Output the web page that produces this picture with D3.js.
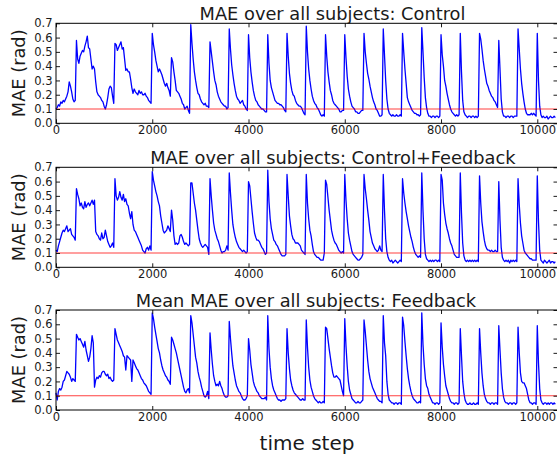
<!DOCTYPE html>
<html>
<head>
<meta charset="utf-8">
<script src="https://cdn.jsdelivr.net/npm/d3@7"></script>
<style>
  body { margin: 0; background: #fff; }
  text { font-family: "DejaVu Sans", sans-serif; }
</style>
</head>
<body>
<div id="chart"></div>
<script>
// one sample every 25 time steps
const stepSize = 25;
const xTickValues = [0, 2000, 4000, 6000, 8000, 10000];
const yTickValues = [0, 0.1, 0.2, 0.3, 0.4, 0.5, 0.6, 0.7];
const thresholdValue = 0.1;
const panelTitles = [
  "MAE over all subjects: Control",
  "MAE over all subjects: Control+Feedback",
  "Mean MAE over all subjects: Feedback",
];
const xLabel = "time step";
const yLabel = "MAE (rad)";

const control = [
  .10,.11,.13,.12,.15,.14,.16,.15,.17,.19, .22,.29,.26,.22,.17,.15,.16,.58,.45,.42,
  .47,.49,.51,.50,.54,.57,.61,.53,.52,.45, .38,.40,.38,.29,.22,.20,.19,.18,.16,.15,
  .12,.10,.13,.18,.24,.26,.25,.19,.14,.56, .55,.51,.53,.55,.57,.52,.53,.45,.37,.38,
  .36,.36,.31,.25,.21,.24,.22,.21,.20,.23, .21,.22,.20,.20,.21,.19,.18,.16,.15,.14,
  // trials every 400 steps from 2000
  .63,.55,.50,.44,.40,.36,.38,.36,.34,.31,.28,.26,.28,.25,.23,.19,
  .46,.43,.36,.30,.23,.22,.21,.19,.17,.14,.13,.10,.11,.12,.09,.07,
  .69,.56,.45,.36,.30,.25,.21,.20,.17,.15,.14,.13,.14,.12,.12,.11,
  .57,.50,.43,.36,.30,.27,.22,.19,.17,.15,.14,.13,.12,.12,.10,.11,
  .66,.52,.41,.34,.28,.23,.19,.17,.16,.14,.15,.16,.13,.12,.10,.09,
  .62,.46,.36,.29,.23,.19,.16,.15,.13,.12,.11,.10,.10,.09,.08,.08,
  .62,.42,.30,.25,.22,.19,.16,.15,.14,.14,.13,.13,.12,.11,.09,.08,
  .63,.47,.35,.28,.23,.20,.19,.16,.14,.13,.12,.12,.11,.09,.07,.06,
  .68,.50,.38,.30,.24,.19,.16,.14,.13,.11,.10,.08,.06,.05,.06,.05,
  .62,.47,.36,.29,.23,.20,.16,.14,.13,.12,.11,.10,.08,.08,.09,.09,
  .62,.46,.33,.24,.19,.15,.12,.11,.10,.08,.08,.07,.07,.08,.09,.09,
  .63,.50,.42,.35,.31,.26,.22,.18,.15,.13,.10,.09,.07,.05,.05,.06,
  .66,.48,.30,.17,.10,.07,.06,.05,.06,.05,.05,.06,.05,.05,.06,.05,
  .63,.50,.38,.28,.18,.15,.13,.11,.09,.08,.07,.07,.06,.06,.05,.06,
  .67,.50,.32,.18,.11,.07,.05,.05,.04,.05,.05,.04,.05,.05,.04,.05,
  .62,.48,.40,.30,.26,.21,.17,.13,.10,.08,.07,.06,.05,.06,.05,.06,
  .63,.36,.16,.08,.06,.05,.04,.05,.05,.04,.05,.05,.04,.05,.04,.05,
  .63,.59,.52,.44,.38,.33,.28,.26,.23,.21,.19,.18,.16,.15,.13,.11,
  .58,.38,.17,.08,.05,.05,.04,.05,.05,.04,.05,.05,.04,.05,.05,.05,
  .66,.52,.38,.28,.21,.15,.10,.07,.06,.06,.06,.07,.06,.07,.06,.05,
  .63,.30,.12,.06,.04,.05,.04,.04,.05,.03,.04,.05,.04,.04,.05,.04,
];

const controlFeedback = [
  .12,.11,.15,.18,.21,.24,.26,.25,.27,.29, .25,.26,.27,.23,.22,.21,.19,.55,.51,.48,
  .43,.45,.42,.41,.46,.42,.44,.45,.43,.45, .47,.44,.47,.25,.23,.22,.20,.19,.24,.20,
  .21,.26,.22,.18,.16,.14,.15,.17,.14,.62, .50,.47,.49,.53,.49,.47,.51,.46,.48,.44,
  .43,.38,.34,.39,.30,.26,.25,.23,.21,.19, .17,.15,.12,.11,.10,.13,.14,.12,.15,.12,
  .67,.61,.57,.53,.50,.46,.43,.36,.31,.26,.24,.25,.26,.29,.27,.25,
  .40,.33,.22,.16,.17,.16,.17,.22,.23,.21,.18,.16,.17,.16,.15,.16,
  .59,.59,.52,.45,.40,.33,.26,.20,.17,.15,.14,.15,.16,.15,.14,.09,
  .62,.50,.40,.31,.26,.23,.20,.18,.15,.12,.10,.11,.11,.12,.15,.12,
  .66,.52,.40,.30,.25,.21,.18,.16,.14,.13,.12,.11,.12,.11,.10,.11,
  .60,.57,.48,.39,.31,.24,.21,.19,.19,.18,.16,.14,.13,.11,.09,.10,
  .68,.46,.34,.27,.23,.19,.18,.16,.15,.13,.11,.09,.08,.08,.08,.09,
  .65,.50,.36,.29,.23,.20,.19,.17,.17,.17,.16,.15,.12,.11,.10,.09,
  .65,.45,.34,.26,.22,.16,.11,.09,.08,.07,.07,.06,.05,.05,.05,.10,
  .61,.58,.49,.40,.33,.26,.22,.19,.17,.16,.14,.12,.11,.10,.11,.10,
  .65,.47,.34,.24,.19,.15,.11,.09,.08,.07,.06,.05,.05,.06,.07,.09,
  .65,.55,.48,.40,.33,.25,.21,.17,.15,.13,.12,.11,.12,.15,.12,.11,
  .65,.40,.20,.11,.07,.05,.04,.05,.03,.04,.05,.04,.03,.04,.05,.04,
  .62,.52,.45,.39,.34,.29,.25,.21,.18,.14,.11,.09,.08,.07,.08,.07,
  .66,.40,.20,.09,.06,.05,.04,.05,.04,.05,.04,.05,.05,.04,.05,.04,
  .65,.61,.45,.37,.31,.27,.24,.20,.17,.15,.12,.09,.08,.07,.07,.07,
  .66,.38,.17,.08,.05,.04,.05,.04,.05,.04,.05,.04,.05,.04,.05,.04,
  .64,.45,.32,.25,.19,.15,.13,.12,.12,.11,.12,.11,.11,.12,.11,.11,
  .60,.33,.14,.07,.05,.04,.05,.04,.05,.03,.05,.04,.05,.04,.05,.04,
  .62,.44,.31,.22,.17,.12,.10,.09,.08,.07,.06,.06,.05,.05,.05,.05,
  .64,.32,.12,.05,.04,.03,.05,.04,.03,.04,.05,.03,.04,.04,.03,.04,
];

const feedback = [
  .12,.07,.13,.15,.14,.16,.20,.21,.24,.27, .26,.25,.23,.20,.22,.21,.20,.53,.51,.49,
  .50,.48,.46,.44,.48,.42,.38,.34,.37,.43, .52,.47,.16,.21,.23,.22,.24,.23,.26,.27,
  .27,.25,.24,.25,.22,.23,.21,.20,.21,.57, .53,.49,.47,.45,.43,.41,.38,.37,.28,.38,
  .37,.36,.35,.20,.35,.33,.31,.29,.28,.26, .24,.22,.21,.19,.18,.17,.15,.13,.12,.11,
  .68,.64,.58,.53,.48,.43,.40,.35,.31,.28,.26,.24,.23,.21,.20,.18,
  .51,.49,.46,.43,.40,.36,.32,.28,.24,.20,.16,.13,.12,.14,.15,.12,
  .66,.61,.53,.45,.37,.33,.27,.23,.20,.16,.13,.10,.09,.10,.13,.08,
  .54,.42,.32,.24,.20,.17,.18,.17,.20,.17,.15,.12,.10,.09,.09,.10,
  .62,.50,.40,.31,.26,.21,.17,.15,.13,.12,.10,.08,.07,.07,.08,.10,
  .50,.42,.32,.26,.20,.17,.15,.13,.12,.10,.09,.08,.08,.08,.09,.07,
  .66,.43,.30,.22,.17,.14,.12,.10,.08,.07,.07,.06,.07,.07,.07,.08,
  .57,.40,.29,.21,.17,.14,.12,.11,.10,.09,.08,.07,.07,.08,.07,.07,
  .63,.44,.30,.21,.16,.13,.10,.08,.07,.06,.05,.06,.05,.05,.06,.05,
  .58,.57,.50,.43,.37,.31,.26,.23,.23,.24,.23,.22,.21,.17,.13,.10,
  .64,.45,.31,.20,.14,.11,.08,.07,.06,.05,.05,.06,.05,.05,.06,.07,
  .63,.55,.45,.35,.27,.22,.19,.16,.14,.12,.10,.08,.07,.06,.06,.05,
  .66,.47,.38,.20,.11,.07,.06,.05,.05,.04,.05,.05,.04,.05,.05,.04,
  .65,.59,.48,.38,.29,.22,.17,.13,.10,.08,.07,.06,.05,.05,.06,.05,
  .68,.46,.32,.22,.17,.15,.11,.09,.07,.05,.05,.04,.05,.05,.04,.05,
  .61,.44,.32,.24,.17,.14,.11,.08,.06,.05,.05,.04,.05,.05,.04,.05,
  .57,.38,.20,.12,.07,.05,.04,.04,.05,.04,.04,.05,.04,.04,.05,.04,
  .57,.40,.26,.17,.11,.08,.06,.05,.05,.04,.05,.05,.04,.05,.05,.04,
  .59,.42,.26,.15,.09,.06,.05,.05,.04,.05,.05,.04,.05,.05,.04,.05,
  .58,.40,.26,.20,.19,.19,.17,.15,.11,.07,.05,.05,.04,.05,.05,.04,
  .59,.33,.15,.07,.05,.04,.05,.05,.04,.05,.04,.05,.05,.04,.05,.04,
];

// layout (pixels)
const width = 557, height = 458;
const plotLeft = 56, plotRight = 557.5;
const panelTops = [23.3, 167.3, 310];
const panelHeight = 100;
const titleCenters = [332.5, 332.8, 306];
const tickLen = 4;

const svg = d3
  .select("#chart")
  .append("svg")
  .attr("width", width)
  .attr("height", height);

const xScale = d3.scaleLinear().domain([0, 10420]).range([plotLeft, plotRight]);

[control, controlFeedback, feedback].forEach(function (series, k) {
  var top = panelTops[k],
    bottom = top + panelHeight;
  var yScale = d3.scaleLinear().domain([0, 0.7]).range([bottom, top]);
  var g = svg.append("g").attr("class", "panel");

  // the MAE curve
  g.append("path")
    .datum(series)
    .attr("fill", "none")
    .attr("stroke", "#0000ff")
    .attr("stroke-width", 1.3)
    .attr("stroke-linejoin", "round")
    .attr(
      "d",
      d3
        .line()
        .x((d, i) => xScale(i * stepSize))
        .y((d) => yScale(d))
    );

  // threshold line
  g.append("line")
    .attr("x1", xScale(0))
    .attr("x2", plotRight)
    .attr("y1", yScale(thresholdValue))
    .attr("y2", yScale(thresholdValue))
    .attr("stroke", "#ff0000")
    .attr("stroke-opacity", 0.75)
    .attr("stroke-width", 1.1);

  // axes, ticks pointing inwards on all four sides
  var axes = [
    g.append("g").attr("transform", "translate(0," + bottom + ")")
      .call(d3.axisBottom(xScale).tickValues(xTickValues).tickSize(-tickLen).tickPadding(3).tickFormat(d3.format("d"))),
    g.append("g").attr("transform", "translate(0," + top + ")")
      .call(d3.axisTop(xScale).tickValues(xTickValues).tickSize(-tickLen).tickFormat("")),
    g.append("g").attr("transform", "translate(" + plotLeft + ",0)")
      .call(d3.axisLeft(yScale).tickValues(yTickValues).tickSize(-tickLen).tickPadding(3.5).tickFormat(d3.format(".1f"))),
    g.append("g").attr("transform", "translate(" + plotRight + ",0)")
      .call(d3.axisRight(yScale).tickValues(yTickValues).tickSize(-tickLen).tickFormat("")),
  ];
  axes.forEach(function (a) {
    a.select(".domain").remove();
    a.attr("font-size", 11.5).attr("font-family", "DejaVu Sans").attr("color", "#1a1a1a");
  });

  // frame
  g.append("rect")
    .attr("x", plotLeft)
    .attr("y", top)
    .attr("width", plotRight - plotLeft)
    .attr("height", panelHeight)
    .attr("fill", "none")
    .attr("stroke", "#000")
    .attr("stroke-width", 1);

  g.append("text")
    .attr("x", titleCenters[k])
    .attr("y", top - 3.5)
    .attr("text-anchor", "middle")
    .attr("font-size", 17.8)
    .attr("fill", "#1a1a1a")
    .text(panelTitles[k]);

  g.append("text")
    .attr("transform", "translate(25," + (top + panelHeight / 2) + ") rotate(-90)")
    .attr("text-anchor", "middle")
    .attr("font-size", 17.8)
    .attr("fill", "#1a1a1a")
    .text(yLabel);
});

svg.append("text")
  .attr("x", 307)
  .attr("y", 450)
  .attr("text-anchor", "middle")
  .attr("font-size", 20)
  .attr("fill", "#1a1a1a")
  .text(xLabel);
</script>
</body>
</html>
